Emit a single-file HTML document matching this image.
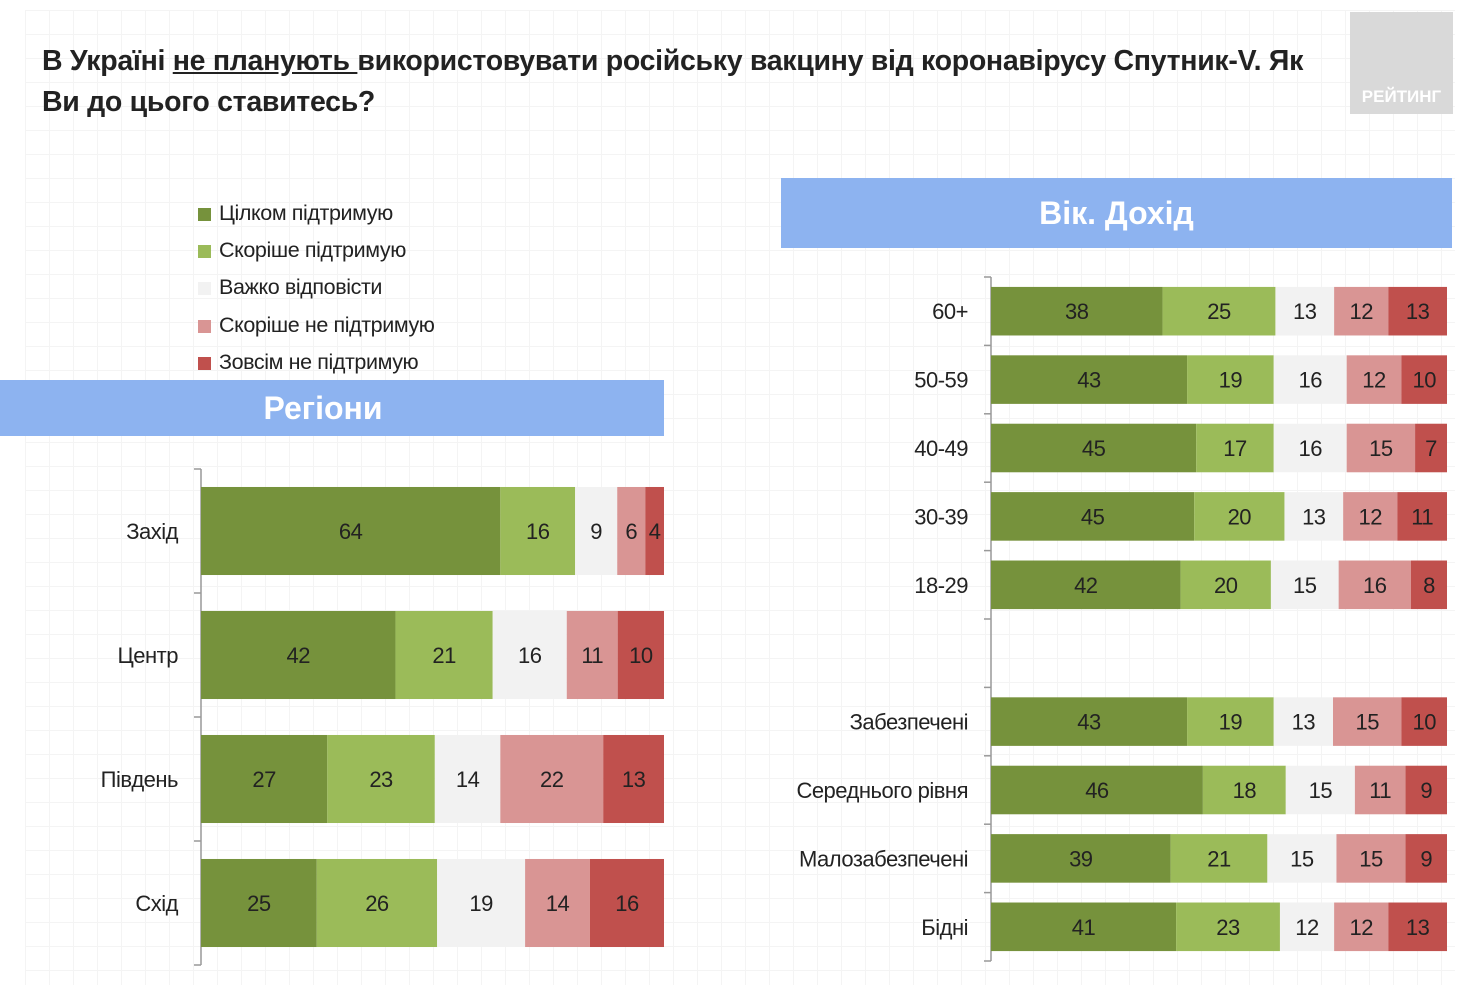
<!DOCTYPE html>
<html><head><meta charset="utf-8">
<style>
body{margin:0;width:1470px;height:989px;overflow:hidden;background:#fff;font-family:"Liberation Sans","DejaVu Sans",sans-serif;position:relative}
.grid{position:absolute;left:25px;top:10px;width:1430px;height:975px;background-image:linear-gradient(#eee 1px,transparent 1px),linear-gradient(90deg,#eee 1px,transparent 1px);background-size:24px 24px;opacity:.6}
.title{position:absolute;left:42px;top:41px;font-size:28.5px;font-weight:bold;color:#222;line-height:41px;letter-spacing:-0.3px}
.logo{position:absolute;left:1350px;top:12px;width:103px;height:102px;background:#d9d9d9;color:#fff;font-weight:bold;font-size:17px;text-align:center;line-height:170px}
.band{position:absolute;background:#8db3f0;color:#fff;font-weight:bold;font-size:32px;text-align:center}
.leg{position:absolute;left:198px;font-size:21.5px;color:#222;letter-spacing:-0.4px}
.leg i{display:inline-block;width:13px;height:13px;margin-right:8px;vertical-align:-1px}
svg{position:absolute;left:0;top:0}
</style></head><body>
<div class="grid"></div>
<div class="title">В Україні <u>не планують </u>використовувати російську вакцину від коронавірусу Спутник-V. Як<br>Ви до цього ставитесь?</div>
<div class="logo">РЕЙТИНГ</div>
<div class="leg" style="top:201px"><i style="background:#76923c"></i>Цілком підтримую</div>
<div class="leg" style="top:238px"><i style="background:#9bbb59"></i>Скоріше підтримую</div>
<div class="leg" style="top:275px"><i style="background:#f2f2f2"></i>Важко відповісти</div>
<div class="leg" style="top:313px"><i style="background:#d99594"></i>Скоріше не підтримую</div>
<div class="leg" style="top:350px"><i style="background:#c0504d"></i>Зовсім не підтримую</div>
<div class="band" style="left:0;top:380px;width:646px;padding-right:18px;height:56px;line-height:56px">Регіони</div>
<div class="band" style="left:781px;top:178px;width:671px;height:70px;line-height:70px">Вік. Дохід</div>
<svg id="chart" width="1470" height="989"></svg>
<script>
const colors=["#76923c","#9bbb59","#f2f2f2","#d99594","#c0504d"];
const regionCats=["Захід","Центр","Південь","Схід"];
const regFully=[64,42,27,25];
const regRather=[16,21,23,26];
const regHard=[9,16,14,19];
const regRatherNot=[6,11,22,14];
const regNot=[4,10,13,16];
const ageCats=["60+","50-59","40-49","30-39","18-29","","Забезпечені","Середнього рівня","Малозабезпечені","Бідні"];
const ageFully=[38,43,45,45,42,null,43,46,39,41];
const ageRather=[25,19,17,20,20,null,19,18,21,23];
const ageHard=[13,16,16,13,15,null,13,15,15,12];
const ageRatherNot=[12,12,15,12,16,null,15,11,15,12];
const ageNot=[13,10,7,11,8,null,10,9,9,13];
const svg=document.getElementById('chart');
const NS="http://www.w3.org/2000/svg";
function mk(t,a){const e=document.createElementNS(NS,t);for(const k in a)e.setAttribute(k,a[k]);svg.appendChild(e);return e;}
function draw(cfg){
  const {cats,series,x0,x1,y0,y1,barFrac,prefix}=cfg;
  const n=cats.length, slot=(y1-y0)/n, bh=slot*barFrac;
  const ax=mk('line',{x1:x0,y1:y0,x2:x0,y2:y1,stroke:'#999','stroke-width':1.5});
  
  
  for(let i=0;i<=n;i++){const y=y0+i*slot;const t=mk('line',{x1:x0-7,y1:y,x2:x0,y2:y,stroke:'#999','stroke-width':1.5});
    
    }
  cats.forEach((c,i)=>{
    const cy=y0+(i+0.5)*slot;
    if(c){const lb=mk('text',{x:x0-23,y:cy+8,'text-anchor':'end','font-size':22,fill:'#222','letter-spacing':'-0.5'});lb.textContent=c;
      
      }
    const vals=series.map(s=>s[i]);
    if(vals[0]==null)return;
    const tot=vals.reduce((a,b)=>a+b,0);
    let x=x0;
    vals.forEach((v,k)=>{
      const w=v/tot*(x1-x0);
      const r=mk('rect',{x:x,y:cy-bh/2,width:w,height:bh,fill:colors[k]});
      
      
      const t=mk('text',{x:x+w/2,y:cy+8,'text-anchor':'middle','font-size':22,fill:'#222','letter-spacing':'-0.5'});t.textContent=v;
      
      
      x+=w;
    });
  });
}
draw({cats:regionCats,series:[regFully,regRather,regHard,regRatherNot,regNot],x0:201,x1:664,y0:469,y1:965,barFrac:0.71,prefix:'region'});
draw({cats:ageCats,series:[ageFully,ageRather,ageHard,ageRatherNot,ageNot],x0:991,x1:1447,y0:277,y1:961,barFrac:0.71,prefix:'age-income'});
</script>
</body></html>
